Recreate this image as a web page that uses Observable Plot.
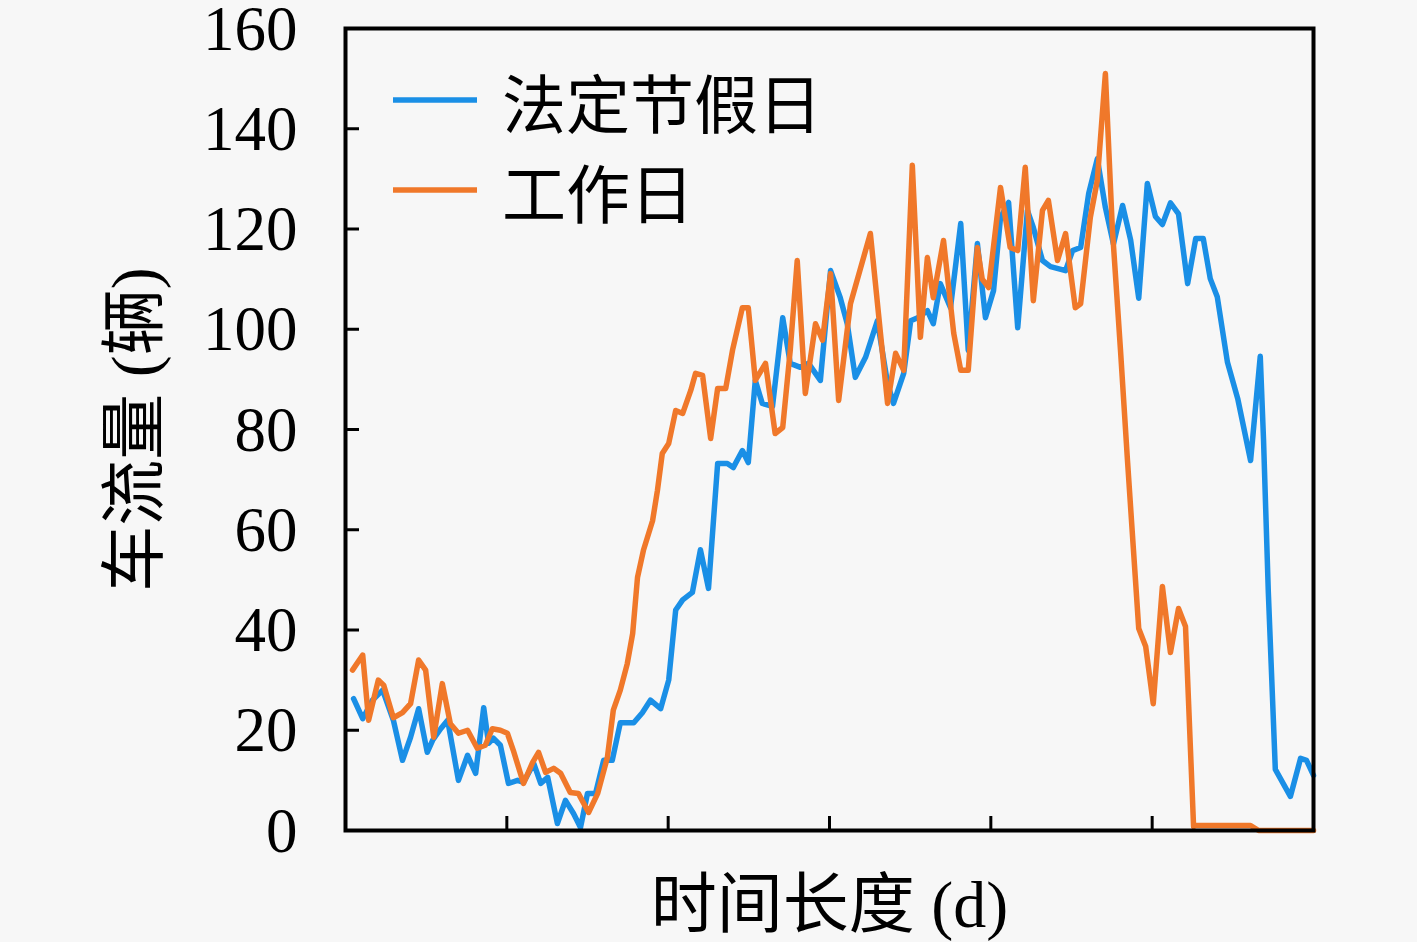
<!DOCTYPE html>
<html>
<head>
<meta charset="utf-8">
<script src="https://cdn.jsdelivr.net/npm/d3@7"></script>
<script src="https://cdn.jsdelivr.net/npm/@observablehq/plot@0.6"></script>
<style>
  html, body { margin: 0; padding: 0; background: #f7f7f7; }
  #wrap { position: relative; width: 1417px; height: 942px; overflow: hidden; }
  #legend { position: absolute; left: 0; top: 0; }
</style>
</head>
<body>
<div id="wrap"><div id="chart"></div><svg id="legend" width="900" height="260"></svg></div>
<script>
// ---- data (x in time units, y = vehicle count) ----
const seriesNames = ["法定节假日", "工作日"];
const seriesColors = ["#1a8fe6", "#f0782a"];

const holidayX = [1.5,3.2,5.0,6.9,8.9,10.6,12.1,13.6,15.2,16.2,17.7,19.0,21.0,22.7,24.2,25.7,26.6,27.5,28.8,30.3,32.0,33.1,35.0,36.3,37.6,39.4,40.9,42.4,43.7,45.0,46.5,48.0,49.6,51.1,53.6,55.2,56.7,58.6,60.1,61.4,62.7,64.5,66.0,67.5,69.2,71.0,72.1,73.8,74.9,76.2,77.5,79.4,81.3,82.7,84.6,86.1,88.3,90.2,92.0,93.3,94.8,96.7,98.9,100.8,101.9,103.8,105.1,106.4,108.2,109.3,110.6,112.5,114.4,115.8,117.5,119.0,120.5,121.8,123.3,125.0,126.8,127.9,129.6,131.1,133.9,135.2,136.7,138.2,139.8,141.3,142.8,144.5,146.0,147.5,149.1,150.6,151.9,153.4,154.9,156.6,158.1,159.5,160.8,162.1,164.0,165.9,168.3,170.1,170.7,171.6,172.9,175.7,177.6,178.7,180.0];
const holidayY = [26.3,22.3,26,28,22,14,18.6,24.3,15.6,18,20.3,22,10,15,11.4,24.5,17.4,18.4,17,9.4,10,9.6,13.4,9.4,10.6,1.4,6,3.4,0.6,7.4,7.4,14,14,21.5,21.5,23.5,26,24.3,30,44,46,47.5,56,48.3,73.2,73.2,72.4,75.8,73.4,89.8,85.2,84.6,102.3,93.2,92.4,93.2,89.8,111.7,106.3,101.1,90.4,94.4,101.7,89.2,85.2,91.2,101.7,102.3,103.7,101.1,109.1,104.3,121.1,95.8,117.1,102.3,107.7,122.3,125.3,100.3,123.7,120.3,113.7,112.5,111.7,115.7,116.3,127.1,134,124.3,117,124.7,117.8,106.2,129.1,122.5,120.9,125.2,123,109.1,118.1,118.1,110.1,106.5,93.4,86.2,73.8,94.6,78.2,47.5,12.2,6.8,14.4,14,11];

const workX = [1.3,3.2,4.3,6.1,7.1,8.9,10.6,12.1,13.6,14.9,16.4,18.0,19.5,21.0,22.7,24.5,26.0,27.3,28.8,30.1,31.2,33.1,34.8,35.9,37.2,38.7,40.0,41.8,43.3,45.2,46.9,48.7,49.8,51.1,52.4,53.4,54.3,55.4,57.1,58.0,58.9,60.1,61.4,62.7,64.2,65.1,66.4,67.9,69.2,70.7,72.0,73.8,74.9,76.2,78.1,79.9,81.3,82.7,84.0,85.5,87.4,88.7,90.2,91.7,93.9,97.6,100.8,102.3,103.8,105.4,106.9,108.2,109.3,111.2,113.1,114.4,115.8,117.5,118.4,119.6,121.8,123.6,125.0,126.4,127.9,129.6,130.7,132.4,133.9,135.7,136.7,138.5,139.8,141.3,142.6,144.1,145.4,146.5,147.5,148.8,150.2,151.9,153.4,154.9,156.2,157.7,158.1,168.3,169.8,180.0];
const workY = [32,35,22,30,29,22.5,23.5,25.3,34,32,18.6,29.3,21.3,19.4,20,16.4,17,20.3,20,19.4,16,9.4,13.6,15.6,11.6,12.4,11.4,7.6,7.4,3.6,7.4,14.6,24,28,33.3,39.3,50.5,55.9,61.8,67.8,75.2,77.2,83.8,83.2,87.8,91.2,90.8,78.2,88.2,88.2,96,104.3,104.3,89.8,93.2,79.2,80.4,95.8,113.7,87.2,101.1,97.8,111.1,85.8,105.1,119.1,85.2,95.2,91.8,132.7,98.4,114.3,106.3,117.7,99.2,91.8,91.8,116.3,110,108.3,128.3,116.3,115.7,132.3,105.7,123.7,125.7,113.7,119.1,104.3,105.1,122.3,129.7,151,120,96,74,56.3,40.3,36.7,25.3,48.7,35.5,44.3,40.7,0.8,1,1,0,0];

const yTicks = [0, 20, 40, 60, 80, 100, 120, 140, 160];
const xTicks = [30, 60, 90, 120, 150];
const yTitle = "车流量 (辆)";
const xTitle = "时间长度 (d)";

const holiday = holidayX.map((x, i) => ({x, y: holidayY[i]}));
const work = workX.map((x, i) => ({x, y: workY[i]}));

const serif = "'Liberation Serif', 'Noto Sans CJK SC', serif";
const mixed = "'Liberation Serif', 'Noto Sans CJK SC', serif";

const chart = Plot.plot({
  width: 1417,
  height: 942,
  marginLeft: 345,
  marginRight: 104,
  marginTop: 28,
  marginBottom: 112,
  style: {background: "transparent", fontFamily: serif, fontSize: "63px", color: "#000", overflow: "visible"},
  x: {domain: [0, 180]},
  y: {domain: [0, 160]},
  marks: [
    Plot.line(holiday, {x: "x", y: "y", stroke: seriesColors[0], strokeWidth: 5.5, strokeLinejoin: "round"}),
    Plot.line(work, {x: "x", y: "y", stroke: seriesColors[1], strokeWidth: 5.5, strokeLinejoin: "round"}),
    Plot.axisY({ticks: yTicks, tickSize: 0, tickPadding: 48, label: null, fontSize: 63, dy: 1, fontFamily: serif}),
    Plot.axisY({ticks: yTicks, tickSize: -14, text: null, strokeWidth: 3, label: null}),
    Plot.axisX({ticks: xTicks, tickSize: -14, text: null, strokeWidth: 3, label: null}),
    Plot.frame({stroke: "#000", strokeWidth: 4}),
    Plot.text([yTitle], {frameAnchor: "left", dx: -210, rotate: -90, text: d => d, fontSize: 66, fontFamily: mixed, textAnchor: "middle", lineAnchor: "middle", fill: "#000"}),
    Plot.text([xTitle], {frameAnchor: "bottom", dy: 75, text: d => d, fontSize: 66, fontFamily: mixed, textAnchor: "middle", lineAnchor: "middle", fill: "#000"})
  ]
});
document.getElementById("chart").appendChild(chart);

// legend
const lg = d3.select("#legend");
seriesNames.forEach((name, i) => {
  const cy = 100 + i * 90;
  lg.append("line").attr("x1", 393).attr("x2", 477).attr("y1", cy).attr("y2", cy)
    .attr("stroke", seriesColors[i]).attr("stroke-width", 5.5);
  lg.append("text").attr("x", 502).attr("y", cy).attr("dominant-baseline", "central")
    .attr("font-family", "'Noto Sans CJK SC'").attr("font-size", 64).attr("fill", "#000").text(name);
});
</script>
</body>
</html>
